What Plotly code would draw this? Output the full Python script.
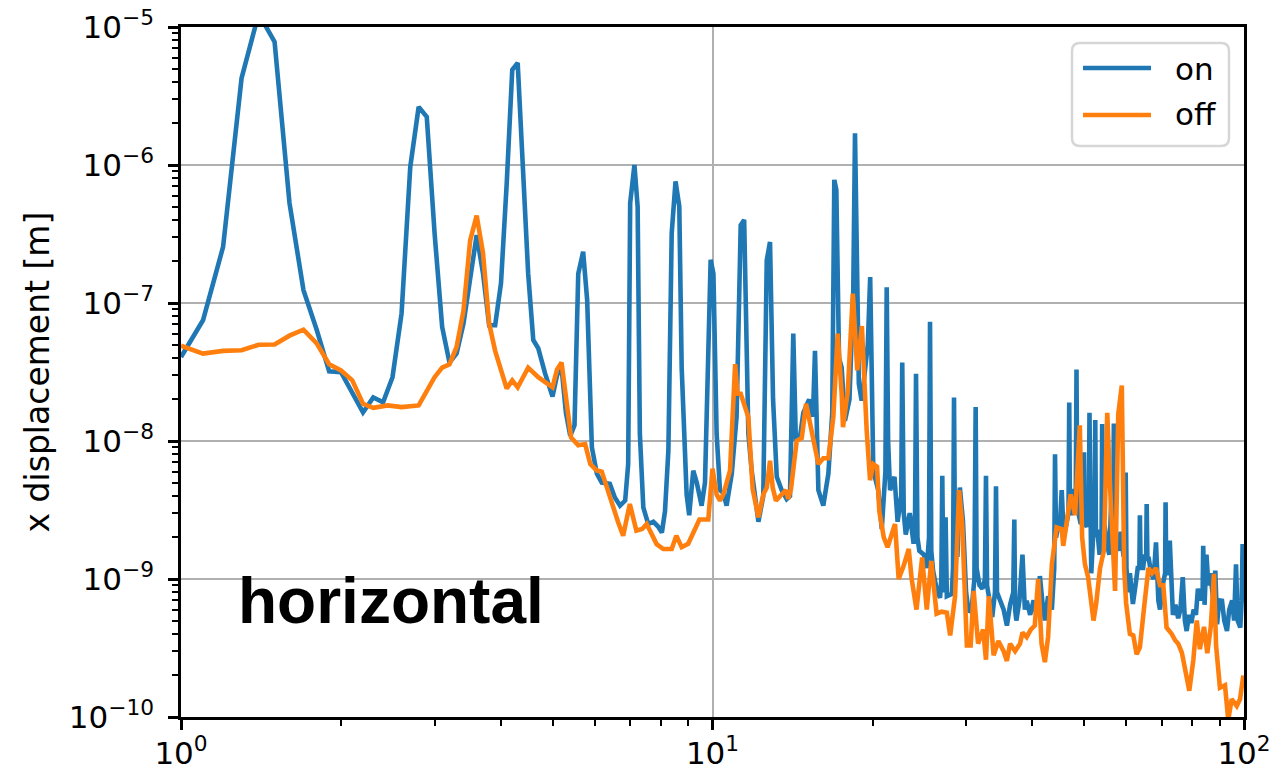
import plotly.graph_objects as go

# Displacement spectra, frequency in Hz, displacement in m
freq_on = [
    1.0, 1.1, 1.2, 1.3, 1.4, 1.5, 1.6, 1.7, 1.8, 1.9, 2.0, 2.1, 2.2, 2.3, 2.4, 2.5, 2.6, 2.7, 2.8, 2.9,
    3.0, 3.1, 3.2, 3.3, 3.4, 3.5, 3.6, 3.7, 3.8, 3.9, 4.0, 4.1, 4.2, 4.3, 4.4, 4.5, 4.6, 4.7, 4.84, 4.92,
    5.0, 5.1, 5.2, 5.3, 5.4, 5.5, 5.59, 5.71, 5.81, 5.93, 6.06, 6.19, 6.41, 6.55, 6.7, 6.85, 6.94,
    7.0, 7.13, 7.23, 7.3, 7.41, 7.57, 7.74, 7.9, 8.03, 8.14, 8.26, 8.38, 8.52, 8.66, 8.75, 8.94,
    9.04, 9.2, 9.34, 9.54, 9.68, 9.82, 9.92, 10.04, 10.18, 10.33, 10.48, 10.63, 10.87, 11.1, 11.3,
    11.47, 11.68, 11.85, 12.2, 12.46, 12.65, 12.83, 13.0, 13.21, 13.5, 13.79, 13.99, 14.19, 14.35,
    14.6, 14.82, 15.2, 15.45, 15.59, 15.82, 16.16, 16.52, 16.8, 16.95, 17.1, 17.3, 17.5, 17.75,
    18.1, 18.4, 18.54, 18.7, 18.85, 19.08, 19.4, 19.6, 19.8, 19.95, 20.07, 20.5, 20.82, 21.15,
    21.27, 21.4, 21.58, 22.0, 22.3, 22.65, 22.75, 22.9, 23.1, 23.5, 23.9, 24.05, 24.15, 24.3, 24.5,
    25.0, 25.3, 25.55, 25.66, 25.8, 26.0, 26.4, 26.8, 26.95, 27.06, 27.2, 27.45, 27.6, 28.2, 28.35,
    28.47, 28.6, 28.9, 29.2, 29.6, 30.0, 30.3, 30.7, 31.1, 31.27, 31.4, 31.8, 32.2, 32.55, 32.7,
    32.85, 33.0, 33.6, 34.0, 34.15, 34.3, 34.8, 35.3, 35.8, 36.3, 36.8, 36.97, 37.1, 37.3, 37.8,
    38.3, 38.7, 39.0, 39.6, 40.2, 40.7, 41.3, 41.8, 42.2, 42.8, 43.5, 43.95, 44.1, 44.3, 44.6, 45.0,
    45.4, 45.8, 46.4, 46.75, 46.9, 47.05, 47.3, 47.8, 48.25, 48.4, 48.55, 48.8, 49.3, 49.85, 50.0,
    50.15, 50.6, 51.05, 51.2, 51.35, 51.6, 52.0, 52.35, 52.5, 52.65, 53.0, 53.5, 53.95, 54.1, 54.25,
    54.7, 55.2, 55.8, 56.3, 56.75, 56.9, 57.05, 57.4, 58.0, 58.6, 59.3, 59.75, 59.9, 60.1, 60.5,
    61.0, 61.8, 62.5, 63.1, 63.55, 63.7, 63.9, 64.6, 65.0, 65.45, 65.6, 65.8, 66.2, 66.9, 67.6,
    68.3, 69.0, 69.5, 70.3, 71.05, 71.2, 71.4, 71.8, 72.5, 73.5, 74.3, 75.2, 75.9, 76.7, 77.4,
    78.0, 78.8, 79.6, 80.4, 81.2, 81.9, 82.8, 83.6, 83.8, 84.0, 84.3, 85.0, 85.7, 86.5, 87.5,
    88.3, 89.0, 89.8, 90.9, 91.8, 92.9, 93.8, 95.0, 95.8, 96.6, 97.3, 98.4, 99.0, 99.4, 100.0,
]
disp_on = [
    4.06e-8, 7.5e-8, 2.55e-7, 4.25e-6, 1.25e-5, 7.8e-6, 5.3e-7, 1.24e-7, 6.4e-8, 3.2e-8, 3.15e-8,
    2.2e-8, 1.61e-8, 2.07e-8, 1.91e-8, 2.9e-8, 8.4e-8, 9.7e-7, 2.64e-6, 2.23e-6,
    3.2e-7, 6.7e-8, 3.7e-8, 4.3e-8, 7.1e-8, 1.5e-7, 3.1e-7, 1.64e-7, 6.9e-8, 6.9e-8, 1.39e-7,
    7.3e-7, 4.9e-6, 5.5e-6, 1.07e-6, 1.63e-7, 5.4e-8, 4.7e-8, 3.1e-8, 2.6e-8,
    2.1e-8, 3.0e-8, 3.4e-8, 1.6e-8, 1.09e-8, 1.3e-8, 1.63e-7, 2.35e-7, 1.05e-7, 9e-9, 5.8e-9,
    5.0e-9, 4.9e-9, 3.9e-9, 3.4e-9, 3.7e-9, 6.8e-9,
    5.3e-7, 1.0e-6, 5.0e-7, 1.13e-8, 3.3e-9, 2.5e-9, 2.6e-9, 2.4e-9, 2.17e-9, 3.1e-9, 8.5e-9,
    3.2e-7, 7.6e-7, 5.0e-7, 3.4e-8, 4.1e-9,
    2.9e-9, 6.1e-9, 5.0e-9, 3.4e-9, 5.0e-9, 3.4e-8, 2.06e-7, 1.63e-7, 1.13e-8, 4.4e-9, 4.2e-9,
    3.4e-9, 5.8e-9, 1.5e-8, 3.66e-7,
    4.0e-7, 1.13e-8, 6.1e-9, 2.6e-9, 4.0e-9, 2.04e-7, 2.77e-7, 2.0e-8, 5.5e-9, 4.4e-9, 3.8e-9,
    4.0e-9, 6.0e-8, 1.0e-8,
    1.05e-8, 1.6e-8, 2.0e-8, 1.5e-8, 4.5e-8, 4.4e-9, 3.4e-9, 5.8e-9, 1.6e-8, 7.8e-7, 6.6e-7,
    4.0e-8, 3.4e-8, 1.4e-8,
    2.0e-8, 1.2e-7, 1.7e-6, 1.0e-7, 2.6e-8, 1.96e-8, 3.5e-8, 5e-8, 1.54e-7, 2e-8, 6.1e-9, 4.4e-9,
    2.3e-9, 6e-9,
    1.3e-7, 1e-8, 4.4e-9, 5.5e-9, 2.6e-9, 4e-9, 3.7e-8, 3e-9, 2.1e-9, 3.0e-9, 1.8e-9, 3e-9,
    3.07e-8, 2e-9, 1.6e-9,
    1.5e-9, 1.2e-9, 2e-9, 7.3e-8, 1.6e-9, 1.15e-9, 8.5e-10, 7.3e-10, 1e-9, 5.6e-9, 8e-10, 2.8e-9,
    7.5e-10, 7.8e-10, 1.2e-9,
    2.07e-8, 1.5e-9, 1.5e-9, 4.6e-9, 2.6e-9, 8e-10, 5.9e-10, 5.8e-10, 1e-9, 1.76e-8, 1.2e-9,
    9e-10, 8.5e-10, 1e-9, 5.6e-9,
    9e-10, 8e-10, 5.3e-10, 8e-10, 4.7e-9, 8e-10, 7e-10, 6e-10, 4.6e-10, 6.5e-10, 8e-10, 2.7e-9,
    6e-10, 5e-10, 7e-10,
    1.5e-9, 6e-10, 6.95e-10, 5.5e-10, 7e-10, 5.5e-10, 1.05e-9, 6.5e-10, 5e-10, 7.5e-10, 6e-10,
    1.2e-9, 8e-9, 2e-9, 2.3e-9, 2.3e-9,
    4.4e-9, 2.0e-9, 2.6e-9, 3e-9, 1.9e-8, 3e-9, 3.0e-9, 4.5e-9, 4e-9, 3.3e-8, 4e-9, 3.0e-9, 2.5e-9,
    3e-9, 8.3e-9,
    2.5e-9, 2.4e-9, 3e-9, 1.6e-8, 2e-9, 1.1e-9, 2.0e-9, 2.2e-9, 1.42e-8, 2.2e-9, 2.2e-9, 1.5e-9,
    2e-9, 1.33e-8, 2.4e-9,
    2.4e-9, 1.8e-9, 1.5e-9, 4e-9, 2e-9, 1.34e-8, 2e-9, 1.8e-9, 1.6e-9, 2.2e-9, 1.5e-9, 1.5e-9,
    5.9e-9, 1.2e-9, 8e-10,
    1.1e-9, 6.6e-10, 9e-10, 1.2e-9, 1.2e-9, 2.9e-9, 1.2e-9, 1.2e-9, 1.5e-9, 1.4e-9, 3.5e-9,
    1.4e-9, 1.4e-9, 1.1e-9, 1.0e-9,
    1.84e-9, 7e-10, 6e-10, 9e-10, 1.1e-9, 3.6e-9, 1.1e-9, 1.1e-9, 1.9e-9, 5.5e-10, 6.5e-10,
    5.2e-10, 6e-10, 1.03e-9, 5e-10,
    4.2e-10, 5.5e-10, 4.8e-10, 6e-10, 5.5e-10, 8.5e-10, 7e-10, 8e-10, 1.74e-9, 7e-10, 6.5e-10,
    1.5e-9, 9e-10, 1.1e-9, 7e-10,
    1.15e-9, 4.7e-10, 7e-10, 6.95e-10, 5e-10, 4.2e-10, 6e-10, 7e-10, 5e-10, 1.28e-9, 5e-10,
    4.45e-10, 7e-10, 1.79e-9, 1.2e-9,
]

freq_off = [
    1.0, 1.1, 1.2, 1.3, 1.4, 1.5, 1.6, 1.7, 1.8, 1.9, 2.0, 2.1, 2.2, 2.3, 2.45, 2.6, 2.8, 2.9, 3.0,
    3.1, 3.2, 3.3, 3.4, 3.5, 3.6, 3.7, 3.8, 3.9, 4.0, 4.1, 4.2, 4.3, 4.5, 4.7, 5.0, 5.1, 5.2, 5.3,
    5.42, 5.59, 5.76, 5.89, 6.06, 6.19, 6.32, 6.55, 6.64, 6.79, 6.99, 7.19, 7.37, 7.52, 7.85, 8.08,
    8.38, 8.55, 8.75, 9.0, 9.2, 9.45, 9.68, 9.82, 10.0, 10.18, 10.33, 10.48, 10.79, 11.03, 11.14,
    11.3, 11.68, 11.76, 11.9, 12.2, 12.46, 12.65, 12.83, 12.98, 13.16, 13.5, 13.75, 13.88, 14.05,
    14.4, 14.72, 15.0, 15.38, 15.82, 16.16, 16.52, 16.88, 17.2, 17.5, 17.6, 17.97, 18.37, 18.72,
    19.1, 19.5, 19.79, 20.07, 20.4, 20.6, 21.0, 21.35, 21.68, 22.05, 22.4, 22.9, 23.4, 23.7, 24.2,
    24.8, 25.3, 25.8, 26.4, 27.0, 27.6, 28.0, 28.6, 29.1, 29.5, 30.1, 30.6, 31.0, 31.6, 32.3, 32.7,
    33.1, 33.8, 34.5, 35.3, 35.8, 36.3, 37.1, 37.9, 38.3, 39.0, 39.7, 40.4, 41.0, 41.6, 42.2, 42.8,
    43.5, 44.4, 45.4, 45.7, 46.4, 47.2, 48.1, 49.1, 49.6, 50.2, 50.9, 52.1, 52.7, 53.6, 54.5, 55.3,
    56.0, 57.2, 58.0, 58.9, 59.5, 60.0, 61.0, 61.9, 62.8, 63.7, 64.8, 66.1, 67.1, 68.3, 69.5, 70.5,
    71.5, 73.1, 74.2, 75.2, 76.4, 77.8, 78.9, 80.3, 81.5, 82.6, 84.1, 85.3, 86.6, 87.8, 88.6, 90.1,
    92.1, 93.4, 94.8, 96.9, 98.3, 99.7,
]
disp_off = [
    4.9e-8, 4.3e-8, 4.5e-8, 4.55e-8, 4.98e-8, 5.0e-8, 5.8e-8, 6.4e-8, 5.1e-8, 3.6e-8, 3.25e-8,
    2.75e-8, 1.86e-8, 1.74e-8, 1.81e-8, 1.76e-8, 1.81e-8, 2.3e-8, 2.9e-8,
    3.4e-8, 3.6e-8, 4.8e-8, 8.8e-8, 2.84e-7, 4.3e-7, 2.3e-7, 7.1e-8, 4.5e-8, 3.25e-8, 2.4e-8,
    2.75e-8, 2.45e-8, 3.4e-8, 2.9e-8, 2.45e-8, 3.3e-8, 3.7e-8, 2.0e-8,
    1.06e-8, 9.3e-9, 9.5e-9, 6.8e-9, 6.1e-9, 6.0e-9, 4.6e-9, 3.1e-9, 2.6e-9, 2.06e-9, 3.5e-9,
    2.24e-9, 2.3e-9, 2.5e-9, 1.79e-9, 1.65e-9,
    1.65e-9, 2.06e-9, 1.7e-9, 1.8e-9, 2.17e-9, 2.7e-9, 2.7e-9, 2.7e-9, 6.3e-9, 4.1e-9, 3.7e-9,
    4.1e-9, 6.1e-9, 3.6e-8, 2.2e-8,
    2.2e-8, 1.49e-8, 9.5e-9, 4.5e-9, 2.8e-9, 4.1e-9, 4.6e-9, 7.2e-9, 4.6e-9, 3.7e-9, 4.1e-9,
    4.4e-9, 3.8e-9, 4.5e-9,
    1.0e-8, 1.05e-8, 1.86e-8, 1.15e-8, 6.8e-9, 7.5e-9, 7.5e-9, 1.5e-8, 6e-8, 2.2e-8, 1.26e-8,
    2.3e-8, 1.17e-7, 3.25e-8,
    6.8e-8, 1.2e-8, 5.2e-9, 6.8e-9, 6.5e-9, 3.1e-9, 2.0e-9, 1.7e-9, 2.0e-9, 2.5e-9, 1.0e-9,
    1.25e-9, 1.65e-9, 1.0e-9, 6e-10,
    1.43e-9, 6e-10, 1.35e-9, 5.6e-10, 5.8e-10, 5.7e-10, 3.9e-10, 7.5e-10, 4.4e-9, 2.5e-9, 3.3e-10,
    3.3e-10, 8.2e-10, 3.4e-10, 4.3e-10, 2.6e-10,
    7.5e-10, 2.8e-10, 3.55e-10, 3.0e-10, 2.55e-10, 3.4e-10, 3.0e-10, 3.4e-10, 4.1e-10, 3.8e-10,
    4.3e-10, 4.6e-10, 1.0e-9, 3.4e-10, 2.5e-10, 3.8e-10,
    1.28e-9, 2.37e-9, 2.3e-9, 1.74e-9, 2.6e-9, 4.1e-9, 2.9e-9, 1.3e-8, 2.0e-9, 1.28e-9, 1.03e-9,
    5e-10, 6.6e-10, 1.2e-9, 1.6e-9, 1.6e-8,
    4.5e-9, 8.2e-10, 1.57e-8, 2.52e-8, 1.2e-9, 6.7e-10, 4.0e-10, 3.9e-10, 2.85e-10, 3.2e-10,
    6e-10, 1.2e-9, 1.1e-9, 1.2e-9, 9e-10, 9e-10,
    4.45e-10, 4.0e-10, 3.6e-10, 3.4e-10, 2.93e-10, 2.0e-10, 1.55e-10, 2.6e-10, 5e-10, 3.1e-10,
    4.5e-10, 2.9e-10, 4.5e-10, 1.09e-9, 3.3e-10, 1.63e-10,
    1.7e-10, 9.5e-11, 1.35e-10, 1.2e-10, 1.35e-10, 2.0e-10,
]

x_ticks = [1, 10, 100]
x_tick_text = ["10<sup>0</sup>", "10<sup>1</sup>", "10<sup>2</sup>"]
y_ticks = [1e-10, 1e-9, 1e-8, 1e-7, 1e-6, 1e-5]
y_tick_text = ["10<sup>−10</sup>", "10<sup>−9</sup>", "10<sup>−8</sup>",
               "10<sup>−7</sup>", "10<sup>−6</sup>", "10<sup>−5</sup>"]
series_names = ["on", "off"]

BLUE = "#1f77b4"
ORANGE = "#ff7f0e"
FONT = "DejaVu Sans"
LINE_W = 4.6

x_minor = [m * 10 ** k for k in range(0, 2) for m in range(2, 10)]
y_minor = [m * 10.0 ** k for k in range(-10, -5) for m in range(2, 10)]

fig = go.Figure()
fig.add_trace(go.Scatter(x=freq_on, y=disp_on, mode="lines", name=series_names[0],
                         line=dict(color=BLUE, width=LINE_W), showlegend=False))
fig.add_trace(go.Scatter(x=freq_off, y=disp_off, mode="lines", name=series_names[1],
                         line=dict(color=ORANGE, width=LINE_W), showlegend=False))

axis_common = dict(
    type="log",
    showline=True, linecolor="black", linewidth=2.5, mirror=True,
    ticks="outside", ticklen=10, tickwidth=2.5, tickcolor="black",
    showgrid=True, gridcolor="#b0b0b0", gridwidth=2,
    zeroline=False,
    tickfont=dict(family=FONT, size=31, color="black"),
)

fig.update_xaxes(
    range=[0, 2], tickmode="array", tickvals=x_ticks, ticktext=x_tick_text,
    ticklabelstandoff=-3,
    minor=dict(tickmode="array", tickvals=x_minor, ticks="outside", ticklen=6,
               tickwidth=2, tickcolor="black", showgrid=False),
    **axis_common,
)
fig.update_yaxes(
    range=[-10, -5], tickmode="array", tickvals=y_ticks, ticktext=y_tick_text,
    ticklabelstandoff=8,
    minor=dict(tickmode="array", tickvals=y_minor, ticks="outside", ticklen=6,
               tickwidth=2, tickcolor="black", showgrid=False),
    title=dict(text="x displacement [m]", font=dict(family=FONT, size=33, color="black"),
               standoff=10),
    **axis_common,
)

# legend box drawn in paper coordinates
L, R, T, B = 181, 1244, 27, 717
W, H = R - L, B - T


def px(xp):
    return (xp - L) / W


def py(yp):
    return (B - yp) / H


bx0, bx1, by0, by1 = 1072, 1229, 43, 146
r = 8
path = (
    f"M {px(bx0 + r)},{py(by0)} L {px(bx1 - r)},{py(by0)} "
    f"Q {px(bx1)},{py(by0)} {px(bx1)},{py(by0 + r)} "
    f"L {px(bx1)},{py(by1 - r)} Q {px(bx1)},{py(by1)} {px(bx1 - r)},{py(by1)} "
    f"L {px(bx0 + r)},{py(by1)} Q {px(bx0)},{py(by1)} {px(bx0)},{py(by1 - r)} "
    f"L {px(bx0)},{py(by0 + r)} Q {px(bx0)},{py(by0)} {px(bx0 + r)},{py(by0)} Z"
)
shapes = [
    dict(type="path", xref="paper", yref="paper", path=path,
         line=dict(color="#d6d6d6", width=2.5), fillcolor="rgba(255,255,255,0.8)",
         layer="above"),
    dict(type="line", xref="paper", yref="paper", x0=px(1083), x1=px(1151),
         y0=py(68), y1=py(68), line=dict(color=BLUE, width=LINE_W), layer="above"),
    dict(type="line", xref="paper", yref="paper", x0=px(1083), x1=px(1151),
         y0=py(115), y1=py(115), line=dict(color=ORANGE, width=LINE_W), layer="above"),
]

annotations = [
    dict(text=series_names[0], xref="paper", yref="paper", x=px(1173), y=py(69),
         xanchor="left", yanchor="middle", showarrow=False,
         font=dict(family=FONT, size=31, color="black")),
    dict(text=series_names[1], xref="paper", yref="paper", x=px(1173), y=py(114),
         xanchor="left", yanchor="middle", showarrow=False,
         font=dict(family=FONT, size=31, color="black")),
    dict(text="<b>horizontal</b>", xref="paper", yref="paper", x=px(236), y=py(601),
         xanchor="left", yanchor="middle", showarrow=False,
         font=dict(family="Liberation Sans", size=64, color="black")),
]

fig.update_layout(
    width=1278, height=770,
    margin=dict(l=L, r=1278 - R, t=T, b=770 - B, autoexpand=False),
    paper_bgcolor="white", plot_bgcolor="white",
    shapes=shapes, annotations=annotations,
    showlegend=False,
)

fig.write_html("out.html")
